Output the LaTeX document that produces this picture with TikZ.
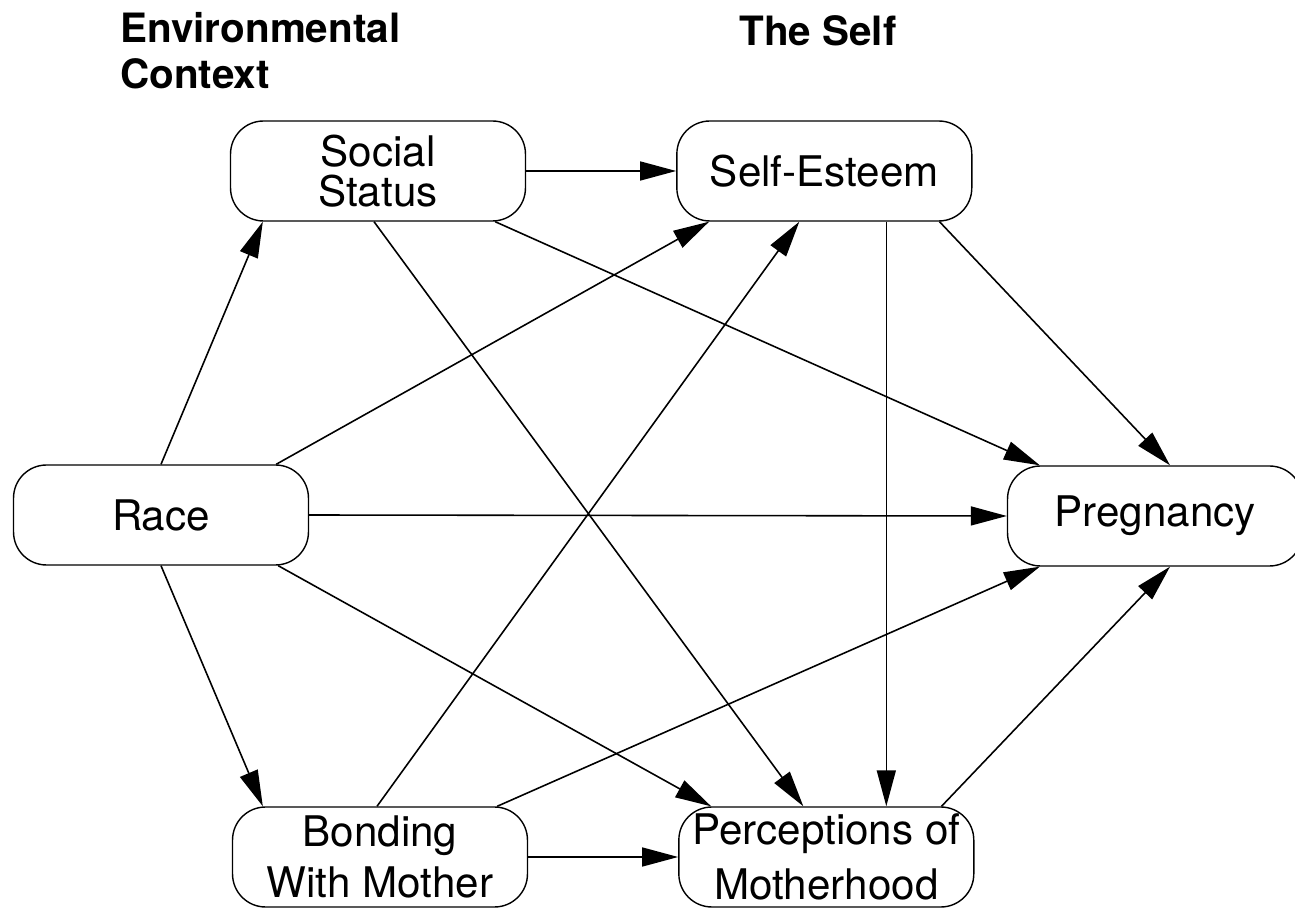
\documentclass[tikz,border=0pt]{standalone}
\usepackage{fontspec}
\setmainfont{TeX Gyre Heros}
\usepackage{tikz}
\usetikzlibrary{positioning,arrows.meta,calc}
\tikzset{
    factor/.style={rectangle, rounded corners=0.66cm, draw=black, line width=0.8pt, fill=white, minimum width=5.9cm, minimum height=2cm, align=center, font=\fontsize{24}{23}\selectfont},
    heading/.style={align=left, font=\fontsize{23}{26}\selectfont\bfseries, inner sep=0pt},
    path arrow/.style={-{Triangle[length=0.72cm, width=0.38cm]}, line width=0.9pt, black}
}

\begin{document}
\begin{tikzpicture}[x=0.02cm, y=-0.02cm]
\useasboundingbox (0,0) rectangle (1295,911);

% column headings
\node[heading, anchor=north west] (envhead) at (120,12) {Environmental\\Context};
\node[heading, anchor=north] (selfhead) at (818,15) {The Self};

% boxes
\node[factor] (race) at (161,515) {Race};
\node[factor] (social) at (378,171) {Social\\Status};
\node[factor, right=3cm of social] (esteem) {Self-Esteem};
\node[factor] (bonding) at (380,857) {Bonding\\[0.2cm]With Mother};
\node[factor, right=3cm of bonding] (motherhood) {Perceptions of\\[0.3cm]Motherhood};
\node[factor] (pregnancy) at (1155,516) {Pregnancy};

% paths out of race
\draw[path arrow] (race.north) -- ($(social.south west)+(33,0)$);
\draw[path arrow] (race.south) -- ($(bonding.north west)+(31,0)$);
\draw[path arrow] ($(race.north east)+(-33,0)$) -- ($(esteem.south west)+(33,0)$);
\draw[path arrow] (race.east) -- (pregnancy.west);
\draw[path arrow] ($(race.south east)+(-31,0)$) -- ($(motherhood.north west)+(33,0)$);

% paths out of social status
\draw[path arrow] (social.east) -- (esteem.west);
\draw[path arrow] ($(social.south east)+(-31,0)$) -- ($(pregnancy.north west)+(33,0)$);
\draw[path arrow] ($(social.south)+(-4,0)$) -- ($(motherhood.north)+(-23,0)$);

% paths out of bonding
\draw[path arrow] ($(bonding.north)+(-3,0)$) -- ($(esteem.south)+(-25,0)$);
\draw[path arrow] ($(bonding.north east)+(-31,0)$) -- ($(pregnancy.south west)+(33,0)$);
\draw[path arrow] (bonding.east) -- (motherhood.west);

% paths out of the self
\draw[path arrow] ($(esteem.south east)+(-33,0)$) -- ($(pregnancy.north)+(15,0)$);
\draw[path arrow] ($(esteem.south)+(62,0)$) -- ($(motherhood.north)+(60,0)$);
\draw[path arrow] ($(motherhood.north east)+(-33,0)$) -- ($(pregnancy.south)+(15,0)$);
\end{tikzpicture}
\end{document}
